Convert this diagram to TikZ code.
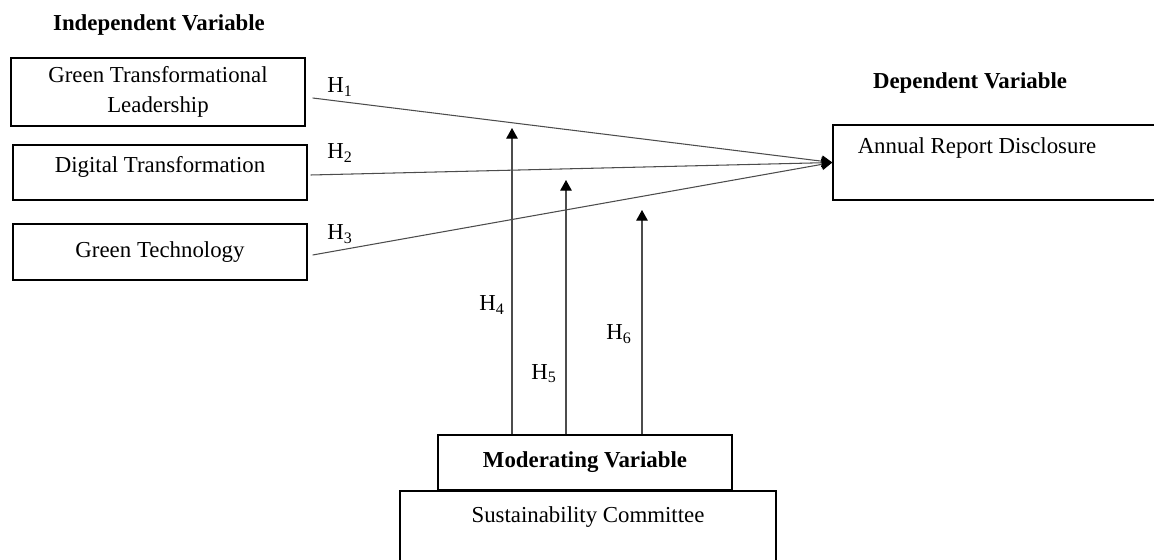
\documentclass[tikz,border=0pt]{standalone}
\usepackage{fontspec}
\setmainfont{Liberation Serif}
\usetikzlibrary{arrows.meta}

\begin{document}
\begin{tikzpicture}[x=0.02cm, y=-0.02cm,
      box/.style={draw, line width=0.8pt, inner sep=0pt},
      txt/.style={font=\fontsize{13}{17}\selectfont, align=center},
      head/.style={font=\fontsize{13}{17}\selectfont\bfseries},
      link/.style={draw=black!70, line width=0.6pt},
      >={Triangle[length=6pt,width=6.5pt,color=black]}]

    \useasboundingbox (0,0) rectangle (1154,560);
    \clip (0,0) rectangle (1154,560);

    % headings
    \node[head] (indep) at (159,25) {Independent Variable};
    \node[head] (dep) at (970,83) {Dependent Variable};

    % independent variables
    \node[box,txt,minimum width=5.88cm,minimum height=1.36cm] (gtl) at (158,92) {Green Transformational\\Leadership};
    \node[box,minimum width=5.88cm,minimum height=1.1cm] (dt) at (160,172.5) {};
    \node[txt] (dtlabel) at (160,167) {Digital Transformation};
    \node[box,txt,minimum width=5.88cm,minimum height=1.12cm] (gt) at (160,252) {Green Technology};

    % dependent variable
    \node[box,minimum width=6.74cm,minimum height=1.5cm] (ard) at (1001.5,162.5) {};
    \node[txt] (ardlabel) at (977,148) {Annual Report Disclosure};

    % moderating variable
    \node[box,minimum width=7.52cm,minimum height=1.78cm] (sc) at (588,535.5) {};
    \node[txt] (sclabel) at (588,517) {Sustainability Committee};
    \node[box,head,minimum width=5.88cm,minimum height=1.1cm] (mod) at (585,462.5) {Moderating Variable};

    % direct paths
    \draw[link,->] ([shift={(7,6)}]gtl.east) -- (ard.west);
    \draw[link,->] ([shift={(3,2.5)}]dt.east) -- (ard.west);
    \draw[link,->] ([shift={(5,3)}]gt.east) -- (ard.west);
    \node[txt] (h1) at (340,87) {H\textsubscript{1}};
    \node[txt] (h2) at (340,153) {H\textsubscript{2}};
    \node[txt] (h3) at (340,234) {H\textsubscript{3}};

    % moderating paths
    \coordinate (h4tip) at (512,128);
    \coordinate (h5tip) at (566,180);
    \coordinate (h6tip) at (642,210);
    \draw[link,->] (mod.north -| h4tip) -- (h4tip);
    \draw[link,->] (mod.north -| h5tip) -- (h5tip);
    \draw[link,->] (mod.north -| h6tip) -- (h6tip);
    \node[txt] (h4) at (492,305) {H\textsubscript{4}};
    \node[txt] (h5) at (544,374) {H\textsubscript{5}};
    \node[txt] (h6) at (619,334) {H\textsubscript{6}};
  \end{tikzpicture}
\end{document}
